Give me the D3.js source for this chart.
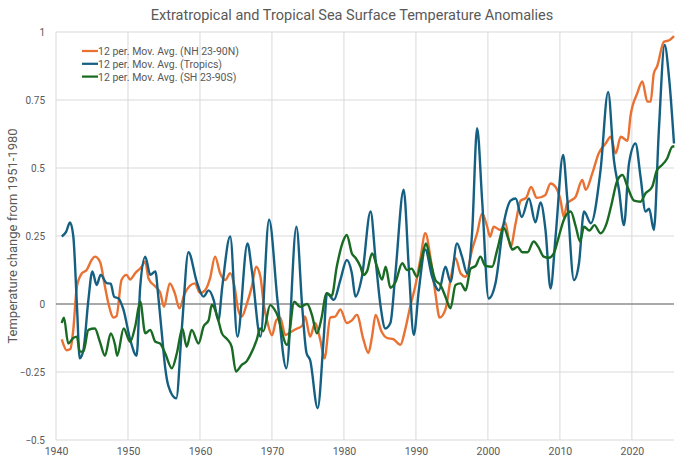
<!DOCTYPE html>
<html>
<head>
<meta charset="utf-8">
<script src="https://cdn.jsdelivr.net/npm/d3@7"></script>
<style>
  body { margin: 0; background: #fff; }
  text { font-family: Roboto, "Noto Sans", sans-serif; fill: #595959; }
</style>
</head>
<body>
<div id="chart"></div>
<script>
// 12 per. moving averages: [year, anomaly]
const nhSeries = [
  [1940.8,-0.13],[1941.5,-0.17],[1942.0,-0.165],[1942.4,-0.095],[1942.9,0.064],[1943.6,0.113],
  [1944.25,0.125],[1944.95,0.162],[1945.4,0.174],[1946.1,0.156],[1946.8,0.064],[1947.3,0.0],
  [1948.0,-0.05],[1948.4,-0.045],[1949.1,0.088],[1949.8,0.107],[1950.3,0.09],[1951.0,0.113],
  [1951.9,0.137],[1952.4,0.156],[1952.85,0.094],[1953.8,0.064],[1954.5,0.04],[1955.0,-0.01],
  [1955.8,0.076],[1956.5,0.04],[1957.15,-0.016],[1957.9,0.04],[1959.3,0.076],[1960.0,0.04],
  [1960.7,0.05],[1961.4,0.094],[1962.1,0.174],[1962.8,0.113],[1963.5,0.088],[1964.2,0.113],
  [1964.8,0.064],[1965.3,-0.02],[1965.8,-0.046],[1966.5,0.0],[1967.2,0.064],[1967.8,0.137],
  [1968.4,0.1],[1968.85,0.0],[1969.4,-0.07],[1970.0,-0.115],[1970.6,-0.06],[1971.15,-0.05],
  [1971.85,-0.114],[1972.8,-0.1],
  [1973.5,-0.09],[1974.2,-0.08],[1974.6,-0.046],[1975.3,-0.12],[1976.0,-0.07],[1976.7,-0.13],
  [1977.3,-0.2],[1978.1,-0.05],[1978.8,-0.046],[1979.5,-0.02],[1980.4,-0.07],[1981.1,-0.06],
  [1981.8,-0.04],[1982.7,-0.13],[1983.4,-0.18],[1983.9,-0.12],[1984.4,-0.04],[1985.2,-0.1],
  [1986.0,-0.125],[1986.9,-0.13],[1987.85,-0.15],[1988.5,-0.095],[1989.2,-0.01],[1989.9,0.064],
  [1990.6,0.162],[1991.3,0.26],[1992.0,0.174],[1992.7,0.04],[1993.3,-0.05],[1994.1,-0.02],
  [1994.8,0.088],[1995.5,0.168],[1996.2,0.113],[1996.9,0.1],[1997.8,0.2],[1998.5,0.26],
  [1999.2,0.333],[1999.9,0.284],[2000.3,0.247],[2000.8,0.284],[2001.75,0.272],[2002.4,0.3],
  [2003.15,0.21],[2003.85,0.297],[2004.55,0.38],[2005.3,0.39],[2006.0,0.43],[2006.8,0.39],
  [2007.95,0.4],[2008.7,0.443],[2009.4,0.43],[2010.1,0.38],[2010.55,0.32],[2011.0,0.37],
  [2011.5,0.38],[2012.2,0.395],[2013.1,0.456],[2013.6,0.42],[2014.5,0.48],[2015.4,0.554],
  [2016.35,0.59],[2017.05,0.615],[2017.75,0.554],[2018.45,0.615],[2019.4,0.6],[2019.8,0.69],
  [2020.75,0.775],[2021.45,0.818],[2022.15,0.744],[2022.6,0.744],[2023.05,0.848],[2023.5,0.873],
  [2024.45,0.964],[2025.2,0.97],[2025.85,0.985]
];

const tropicsSeries = [
  [1940.8,0.248],[1941.4,0.265],[1941.95,0.30],[1942.4,0.25],[1942.9,0.0],[1943.3,-0.2],
  [1943.8,-0.17],[1944.5,0.015],[1945.05,0.12],[1945.65,0.07],[1946.2,0.107],[1947.05,0.077],
  [1947.6,0.075],[1948.07,0.027],[1948.7,0.02],[1949.36,-0.02],[1950.3,-0.13],[1951.2,-0.19],
  [1951.7,0.064],[1952.4,0.174],[1953.1,0.107],[1953.8,0.12],[1954.2,0.03],[1954.7,-0.108],
  [1955.15,-0.23],[1955.6,-0.3],[1956.7,-0.347],[1957.5,-0.083],[1958.4,0.19],[1959.55,0.082],
  [1960.5,0.027],[1961.2,0.05],[1961.9,0.015],[1962.55,-0.06],[1963.1,0.064],[1964.2,0.248],
  [1965.2,-0.12],[1966.6,0.223],[1967.2,0.125],[1968.4,-0.12],[1969.6,0.31],[1970.8,0.005],
  [1972.0,-0.236],
  [1973.4,0.284],[1974.2,-0.01],[1974.8,-0.18],[1975.3,-0.206],[1976.35,-0.383],[1977.2,-0.12],
  [1977.65,0.04],[1978.6,0.015],[1979.5,0.088],[1980.4,0.162],[1981.1,0.113],[1981.6,0.027],
  [1982.5,0.1],[1983.7,0.34],[1984.4,0.162],[1985.1,-0.01],[1985.75,-0.09],[1986.45,-0.07],
  [1987.15,0.113],[1988.3,0.42],[1989.0,0.137],[1989.7,-0.114],[1990.4,0.05],[1991.3,0.2],
  [1992.25,0.1],[1993.2,0.05],[1994.1,0.137],[1994.8,0.082],[1995.7,0.223],[1996.4,0.174],
  [1997.1,0.113],[1997.8,0.26],[1998.5,0.646],[1999.2,0.38],[2000.1,0.02],[2001.05,0.076],
  [2002.2,0.297],[2003.15,0.38],[2003.85,0.388],[2004.7,0.32],[2005.7,0.388],[2006.6,0.3],
  [2007.3,0.373],[2008.0,0.272],[2008.7,0.057],[2009.4,0.248],[2010.45,0.548],[2011.0,0.395],
  [2011.95,0.088],[2012.65,0.15],[2013.35,0.34],[2014.3,0.297],[2015.65,0.493],[2016.7,0.78],
  [2017.5,0.53],[2018.2,0.42],[2018.9,0.29],[2019.6,0.517],[2020.5,0.59],[2021.2,0.468],
  [2021.9,0.34],[2022.4,0.35],[2023.05,0.272],[2023.75,0.64],[2024.55,0.952],[2025.15,0.836],
  [2025.85,0.59]
];

const shSeries = [
  [1940.8,-0.07],[1941.1,-0.05],[1941.7,-0.145],[1942.4,-0.125],[1942.9,-0.12],[1943.3,-0.175],
  [1943.8,-0.175],[1944.5,-0.095],[1945.4,-0.09],[1946.1,-0.139],[1946.8,-0.19],[1947.6,-0.108],
  [1948.2,-0.15],[1948.5,-0.19],[1949.4,-0.09],[1950.3,-0.139],[1951.0,-0.083],[1951.7,0.008],
  [1952.4,-0.108],[1953.1,-0.095],[1953.8,-0.139],[1954.45,-0.145],[1955.15,-0.18],[1956.1,-0.236],
  [1956.8,-0.18],[1957.55,-0.09],[1958.15,-0.157],[1958.85,-0.095],[1959.8,-0.145],[1960.5,-0.083],
  [1961.2,-0.06],[1961.65,-0.003],[1961.9,-0.01],[1962.55,-0.06],[1963.05,-0.108],[1963.8,-0.13],
  [1964.4,-0.157],[1965.0,-0.248],[1965.8,-0.224],[1966.5,-0.21],[1967.0,-0.187],[1967.9,-0.13],
  [1968.35,-0.09],[1968.8,-0.1],[1969.75,-0.004],[1970.65,-0.034],
  [1972.1,-0.15],[1973.1,0.008],[1973.9,-0.01],[1974.9,0.0],[1975.55,-0.04],[1976.25,-0.108],
  [1976.9,-0.05],[1977.55,0.04],[1978.3,0.03],[1979.0,0.137],[1979.95,0.235],[1980.4,0.254],
  [1981.1,0.186],[1981.6,0.17],[1982.3,0.137],[1982.7,0.107],[1983.2,0.12],[1983.9,0.186],
  [1984.6,0.137],[1985.3,0.09],[1985.8,0.137],[1986.45,0.06],[1987.15,0.08],[1988.1,0.15],
  [1988.75,0.125],[1989.4,0.13],[1990.15,0.1],[1990.85,0.174],[1991.4,0.223],[1992.0,0.16],
  [1992.7,0.088],[1993.4,0.07],[1994.1,0.027],[1994.8,-0.016],[1995.5,0.07],[1996.2,0.076],
  [1996.9,0.05],[1997.6,0.13],[1998.3,0.14],[1998.95,0.174],[1999.65,0.14],[2000.6,0.137],
  [2001.3,0.2],[2002.2,0.28],[2002.9,0.235],[2003.4,0.2],[2004.1,0.21],[2004.8,0.19],
  [2005.5,0.19],[2006.35,0.23],[2007.0,0.21],[2007.75,0.174],[2008.45,0.17],[2009.15,0.186],
  [2009.85,0.248],[2010.55,0.31],[2011.5,0.34],[2012.2,0.285],[2012.8,0.23],[2013.35,0.284],
  [2014.1,0.27],[2014.8,0.29],[2015.65,0.26],[2016.5,0.297],[2017.15,0.364],[2018.0,0.456],
  [2018.7,0.474],[2019.4,0.43],[2020.3,0.38],[2021.2,0.376],[2021.9,0.407],[2022.8,0.43],
  [2023.5,0.493],[2024.15,0.51],[2024.9,0.535],[2025.6,0.578],[2025.9,0.58]
];

const seriesNames = ["12 per. Mov. Avg. (NH 23-90N)", "12 per. Mov. Avg. (Tropics)", "12 per. Mov. Avg. (SH 23-90S)"];
const seriesColors = ["#E97132", "#156082", "#196B24"];
const yTicks = [-0.5, -0.25, 0, 0.25, 0.5, 0.75, 1];
const xTicks = [1940, 1950, 1960, 1970, 1980, 1990, 2000, 2010, 2020];

const width = 680, height = 468;
const margin = {top: 32, right: 6, bottom: 28, left: 56};

const svg = d3.select("#chart").append("svg")
    .attr("width", width)
    .attr("height", height);

const x = d3.scaleLinear()
    .domain([1940, 2025.85])
    .range([margin.left, width - margin.right]);

const y = d3.scaleLinear()
    .domain([-0.5, 1])
    .range([height - margin.bottom, margin.top]);

// gridlines
svg.append("g")
    .selectAll("line")
    .data(yTicks.filter(d => d !== 0))
    .join("line")
        .attr("x1", x.range()[0]).attr("x2", x.range()[1])
        .attr("y1", d => y(d)).attr("y2", d => y(d))
        .attr("stroke", "#d9d9d9").attr("stroke-width", 1);

svg.append("g")
    .selectAll("line")
    .data(xTicks)
    .join("line")
        .attr("x1", d => x(d)).attr("x2", d => x(d))
        .attr("y1", y.range()[0]).attr("y2", y.range()[1])
        .attr("stroke", "#d9d9d9").attr("stroke-width", 1);

// zero line
svg.append("line")
    .attr("x1", x.range()[0]).attr("x2", x.range()[1])
    .attr("y1", y(0)).attr("y2", y(0))
    .attr("stroke", "#8c8c8c").attr("stroke-width", 1.5);

// axis labels
const yAxis = d3.axisLeft(y).tickValues(yTicks).tickSize(0).tickPadding(11)
    .tickFormat(d => d3.format("")(d));
svg.append("g")
    .attr("transform", `translate(${margin.left},0)`)
    .call(yAxis)
    .call(g => g.select(".domain").remove())
    .call(g => g.selectAll("text").attr("font-size", 10).attr("fill", "#595959")
        .attr("font-family", "Roboto, sans-serif"));

const xAxis = d3.axisBottom(x).tickValues(xTicks).tickSize(0).tickPadding(8)
    .tickFormat(d3.format("d"));
svg.append("g")
    .attr("transform", `translate(0,${y.range()[0]})`)
    .call(xAxis)
    .call(g => g.select(".domain").remove())
    .call(g => g.selectAll("text").attr("font-size", 10.5).attr("fill", "#595959")
        .attr("font-family", "Roboto, sans-serif"));

// series
const line = d3.line()
    .x(d => x(d[0]))
    .y(d => y(d[1]))
    .curve(d3.curveMonotoneX);

[nhSeries, tropicsSeries, shSeries].forEach((s, i) => {
    svg.append("path")
        .datum(s)
        .attr("fill", "none")
        .attr("stroke", seriesColors[i])
        .attr("stroke-width", 2.4)
        .attr("stroke-linejoin", "round")
        .attr("d", line);
});

// title
svg.append("text")
    .attr("x", 352).attr("y", 20)
    .attr("text-anchor", "middle")
    .attr("font-size", 14.5)
    .text("Extratropical and Tropical Sea Surface Temperature Anomalies");

// y axis title
svg.append("text")
    .attr("transform", `translate(17,${(y.range()[0] + y.range()[1]) / 2}) rotate(-90)`)
    .attr("text-anchor", "middle")
    .attr("font-size", 13)
    .text("Temperature change from 1951-1980");

// legend
const legend = svg.append("g").attr("transform", "translate(82,51)");
seriesNames.forEach((name, i) => {
    const row = legend.append("g").attr("transform", `translate(0,${i * 12.8})`);
    row.append("line")
        .attr("x1", 0).attr("x2", 16)
        .attr("stroke", seriesColors[i]).attr("stroke-width", 2.25);
    row.append("text")
        .attr("x", 16).attr("y", 4)
        .attr("font-size", 10.5)
        .attr("fill", "#404040")
        .text(name);
});
</script>
</body>
</html>
